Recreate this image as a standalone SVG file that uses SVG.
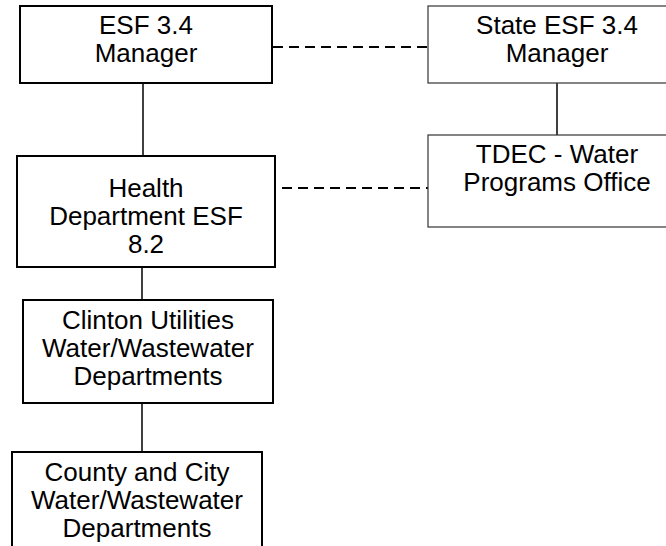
<svg xmlns="http://www.w3.org/2000/svg" width="666" height="546" viewBox="0 0 666 546">
<style>
.b{fill:#fff;stroke:#000;stroke-width:2}
.t{fill:#fff;stroke:#333;stroke-width:1.2}
text{font-family:"Liberation Sans",Arial,sans-serif;font-size:26px;fill:#000;text-anchor:middle}
.s{stroke:#000;stroke-width:1.5;fill:none}
.d{stroke:#000;stroke-width:2;stroke-dasharray:10 6;fill:none}
</style>
<rect width="666" height="546" fill="#fff"/>
<g id="connectors">
<line class="s" x1="143" y1="83" x2="143" y2="156"/>
<line class="s" x1="557" y1="83" x2="557" y2="135"/>
<line class="s" x1="142" y1="267" x2="142" y2="300"/>
<line class="s" x1="142" y1="403" x2="142" y2="452"/>
<line class="d" x1="273" y1="47" x2="428" y2="47"/>
<line class="d" x1="282" y1="188" x2="428" y2="188"/>
</g>
<g id="esf34">
<rect class="b" x="20" y="6" width="252" height="77"/>
<text x="146" y="34">ESF 3.4</text>
<text x="146" y="62">Manager</text>
</g>
<g id="state">
<rect class="t" x="428" y="6" width="258" height="77"/>
<text x="557" y="34">State ESF 3.4</text>
<text x="557" y="62">Manager</text>
</g>
<g id="health">
<rect class="b" x="17" y="156" width="258" height="111"/>
<text x="146" y="197">Health</text>
<text x="146" y="225">Department ESF</text>
<text x="146" y="253">8.2</text>
</g>
<g id="tdec">
<rect class="t" x="428" y="135" width="258" height="92"/>
<text x="557" y="163">TDEC - Water</text>
<text x="557" y="191">Programs Office</text>
</g>
<g id="clinton">
<rect class="b" x="23" y="300" width="250" height="103"/>
<text x="148" y="329">Clinton Utilities</text>
<text x="148" y="357">Water/Wastewater</text>
<text x="148" y="385">Departments</text>
</g>
<g id="county">
<rect class="b" x="12" y="452" width="250" height="110"/>
<text x="137" y="481">County and City</text>
<text x="137" y="509">Water/Wastewater</text>
<text x="137" y="537">Departments</text>
</g>
</svg>
